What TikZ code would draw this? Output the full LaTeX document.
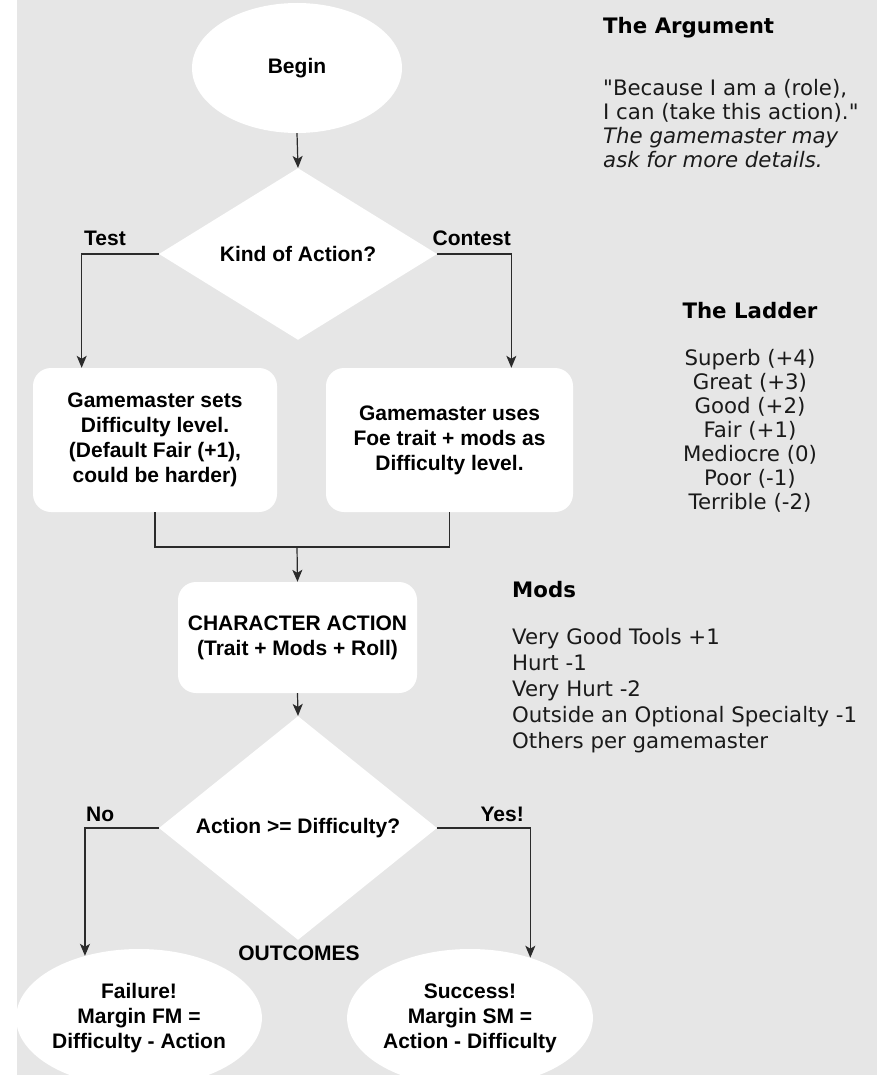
\documentclass[tikz,border=0pt]{standalone}
\usepackage{fontspec}
\setmainfont{Liberation Sans}
\newfontfamily\notefont{DejaVu Sans}
\usetikzlibrary{shapes.geometric,arrows.meta,calc}

\definecolor{paper}{HTML}{E6E6E6}
\definecolor{ink}{HTML}{1A1A1A}
\definecolor{wire}{HTML}{2B2B2B}

\tikzset{
  flowtext/.style={font=\fontsize{21}{25}\selectfont\bfseries, text=black},
  terminal/.style={ellipse, fill=white, draw=none, inner sep=0pt, flowtext, align=center},
  stepbox/.style={rectangle, rounded corners=18pt, fill=white, draw=none, inner sep=0pt, flowtext, align=center},
  decision/.style={diamond, fill=white, draw=none, inner sep=0pt, flowtext,
                   minimum width=278pt, minimum height=148pt},
  edgelabel/.style={flowtext, inner sep=0pt},
  wireline/.style={draw=wire, line width=1.2pt},
  flowarrow/.style={wireline, -{Stealth[length=12pt, width=10pt, inset=3pt]}},
  notehead/.style={font=\notefont\fontsize{21.3}{25}\selectfont\bfseries, text=black, inner sep=0pt},
  notebody/.style={text=ink, inner sep=0pt},
}

\begin{document}
\begin{tikzpicture}[x=1pt, y=-1pt]
  % canvas and grey panel
  \useasboundingbox (0,0) rectangle (882,1075);
  \fill[white] (0,0) rectangle (882,1075);
  \fill[paper] (17,0) rectangle (877,1075);

  % flowchart nodes
  \node[terminal, minimum width=210pt, minimum height=130pt] (begin) at (297,68) {Begin};
  \node[decision] (kind) at (298,254) {Kind of Action?};
  \node[stepbox, minimum width=244pt, minimum height=144pt] (testbox) at (155,440)
       {Gamemaster sets\\Difficulty level.\\(Default Fair (+1),\\could be harder)};
  \node[stepbox, minimum width=247pt, minimum height=144pt] (contbox) at (449.5,440)
       {Gamemaster uses\\Foe trait + mods as\\Difficulty level.};
  \node[stepbox, minimum width=239pt, minimum height=111pt] (act) at (297.5,637.5)
       {CHARACTER ACTION\\(Trait + Mods + Roll)};
  \node[decision] (check) at (298,828) {Action >= Difficulty?};
  \node[terminal, minimum width=236pt, minimum height=138pt] (fail) at (139,1018)
       {Failure!\\Margin FM =\\Difficulty - Action};
  \node[terminal, minimum width=234pt, minimum height=138pt] (win) at (470,1018)
       {Success!\\Margin SM =\\Action - Difficulty};

  % branch labels
  \node[edgelabel, anchor=base west] (testlbl) at (84,246) {Test};
  \node[edgelabel, anchor=base east] (contlbl) at (511,246) {Contest};
  \node[edgelabel, anchor=base west] (nolbl) at (86,821) {No};
  \node[edgelabel, anchor=base east] (yeslbl) at (524,821) {Yes!};
  \node[edgelabel, anchor=base] (outlbl) at (299,960) {OUTCOMES};

  % connectors
  \coordinate (testdrop) at ($(testbox.north west)!0.2!(testbox.north east)$);
  \coordinate (contdrop) at ($(contbox.north west)!0.75!(contbox.north east)$);
  \coordinate (join) at (297,547);
  \draw[flowarrow] (begin.south) -- (kind.north);
  \draw[flowarrow] (kind.west) -| (testdrop);
  \draw[flowarrow] (kind.east) -| (contdrop);
  \draw[wireline] (testbox.south) |- (join) -| (contbox.south);
  \draw[flowarrow] (join) -- (act.north);
  \draw[flowarrow] (act.south) -- (check.north);
  \draw[flowarrow] (check.west) -| (fail.131);
  \draw[flowarrow] (check.east) -| (win.45);

  % side notes
  \node[notehead, anchor=base west] (arghead) at (603,34) {The Argument};
  \node[notebody, font=\notefont\fontsize{21.3}{24}\selectfont, anchor=north west, align=left] (argbody) at (603,79)
       {"Because I am a (role),\\I can (take this action)."\\\itshape The gamemaster may\\\itshape ask for more details.};
  \node[notehead, anchor=base] (ladhead) at (750,318) {The Ladder};
  \node[notebody, font=\notefont\fontsize{21.3}{24}\selectfont, anchor=north, align=center] (ladbody) at (750,349)
       {Superb (+4)\\Great (+3)\\Good (+2)\\Fair (+1)\\Mediocre (0)\\Poor (-1)\\Terrible (-2)};
  \node[notehead, anchor=base west] (modhead) at (512,597) {Mods};
  \node[notebody, font=\notefont\fontsize{21.3}{26}\selectfont, anchor=north west, align=left] (modbody) at (512,628)
       {Very Good Tools +1\\Hurt -1\\Very Hurt -2\\Outside an Optional Specialty -1\\Others per gamemaster};
\end{tikzpicture}
\end{document}
